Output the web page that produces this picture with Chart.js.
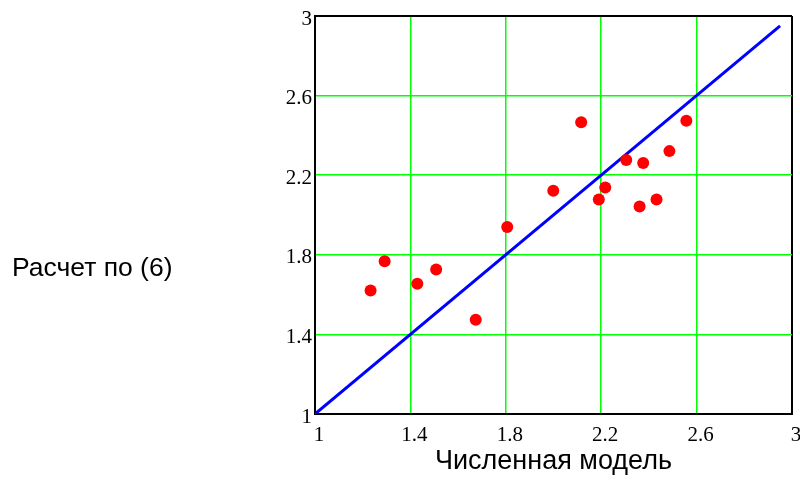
<!DOCTYPE html>
<html>
<head>
<meta charset="utf-8">
<script src="https://cdn.jsdelivr.net/npm/chart.js@4/dist/chart.umd.min.js"></script>
<style>
  html, body { margin: 0; padding: 0; background: #fff; }
  #wrap { width: 800px; height: 480px; position: relative; }
</style>
</head>
<body>
<div id="wrap"><canvas id="chart" width="800" height="480"></canvas></div>
<script>
// values
const numericModel = [1.233, 1.292, 1.429, 1.508, 1.674, 1.806, 1.999, 2.116, 2.19, 2.217, 2.305, 2.361, 2.376, 2.432, 2.486, 2.557];
const formula6 = [1.621, 1.767, 1.654, 1.726, 1.474, 1.94, 2.122, 2.466, 2.078, 2.138, 2.276, 2.043, 2.261, 2.078, 2.321, 2.474];
const lineX = [1, 2.95];
const lineY = [1, 2.95];
const tickValues = [1, 1.4, 1.8, 2.2, 2.6, 3];
const xTitle = 'Численная модель';
const yTitle = 'Расчет по (6)';

const scatterPoints = numericModel.map((x, i) => ({ x: x, y: formula6[i] }));
const linePoints = lineX.map((x, i) => ({ x: x, y: lineY[i] }));

const tickFont = { family: '"Liberation Serif", "Times New Roman", serif', size: 21 };
const edge = v => v === tickValues[0] || v === tickValues[tickValues.length - 1];

function setTicks(scale) {
  scale.ticks = tickValues.map(v => ({ value: v }));
}

// horizontal y label on the left
const sideLabel = {
  id: 'sideLabel',
  afterDraw(chart) {
    const ctx = chart.ctx;
    ctx.save();
    ctx.font = '26.5px "Liberation Sans", Arial, sans-serif';
    ctx.fillStyle = '#000';
    ctx.textAlign = 'left';
    ctx.textBaseline = 'alphabetic';
    ctx.fillText(yTitle, 12, 276);
    ctx.restore();
  }
};

new Chart(document.getElementById('chart'), {
  type: 'scatter',
  data: {
    datasets: [
      {
        data: scatterPoints,
        backgroundColor: '#ff0000',
        borderWidth: 0,
        pointRadius: 6,
        pointHoverRadius: 6
      },
      {
        type: 'line',
        data: linePoints,
        borderColor: '#0000ff',
        borderWidth: 3,
        pointRadius: 0,
        fill: false
      }
    ]
  },
  options: {
    responsive: false,
    animation: false,
    layout: { padding: { left: 0, right: 8, top: 16, bottom: 0 } },
    plugins: { legend: { display: false }, tooltip: { enabled: false } },
    scales: {
      x: {
        type: 'linear',
        min: 1,
        max: 3,
        afterBuildTicks: setTicks,
        afterFit(scale) {
          scale.height = 66;
          scale.paddingLeft = 0;
          scale.paddingRight = 0;
        },
        border: { display: true, color: '#000', width: 2 },
        grid: {
          drawTicks: false,
          color: c => edge(c.tick.value) ? '#000' : '#00ff00',
          lineWidth: c => edge(c.tick.value) ? 2 : 1.5
        },
        ticks: {
          padding: 9,
          labelOffset: 4,
          maxRotation: 0,
          color: '#000',
          font: tickFont,
          callback: v => String(v)
        },
        title: {
          display: true,
          text: xTitle,
          color: '#000',
          font: { family: '"Liberation Sans", Arial, sans-serif', size: 27 },
          padding: { top: 0, bottom: 2 }
        }
      },
      y: {
        type: 'linear',
        min: 1,
        max: 3,
        afterBuildTicks: setTicks,
        afterFit(scale) {
          scale.width = 315;
          scale.paddingTop = 0;
          scale.paddingBottom = 0;
        },
        border: { display: true, color: '#000', width: 2 },
        grid: {
          drawTicks: false,
          color: c => edge(c.tick.value) ? '#000' : '#00ff00',
          lineWidth: c => edge(c.tick.value) ? 2 : 1.5
        },
        ticks: {
          padding: 3,
          labelOffset: 3,
          color: '#000',
          font: tickFont,
          callback: v => String(v)
        }
      }
    }
  },
  plugins: [sideLabel]
});
</script>
</body>
</html>
